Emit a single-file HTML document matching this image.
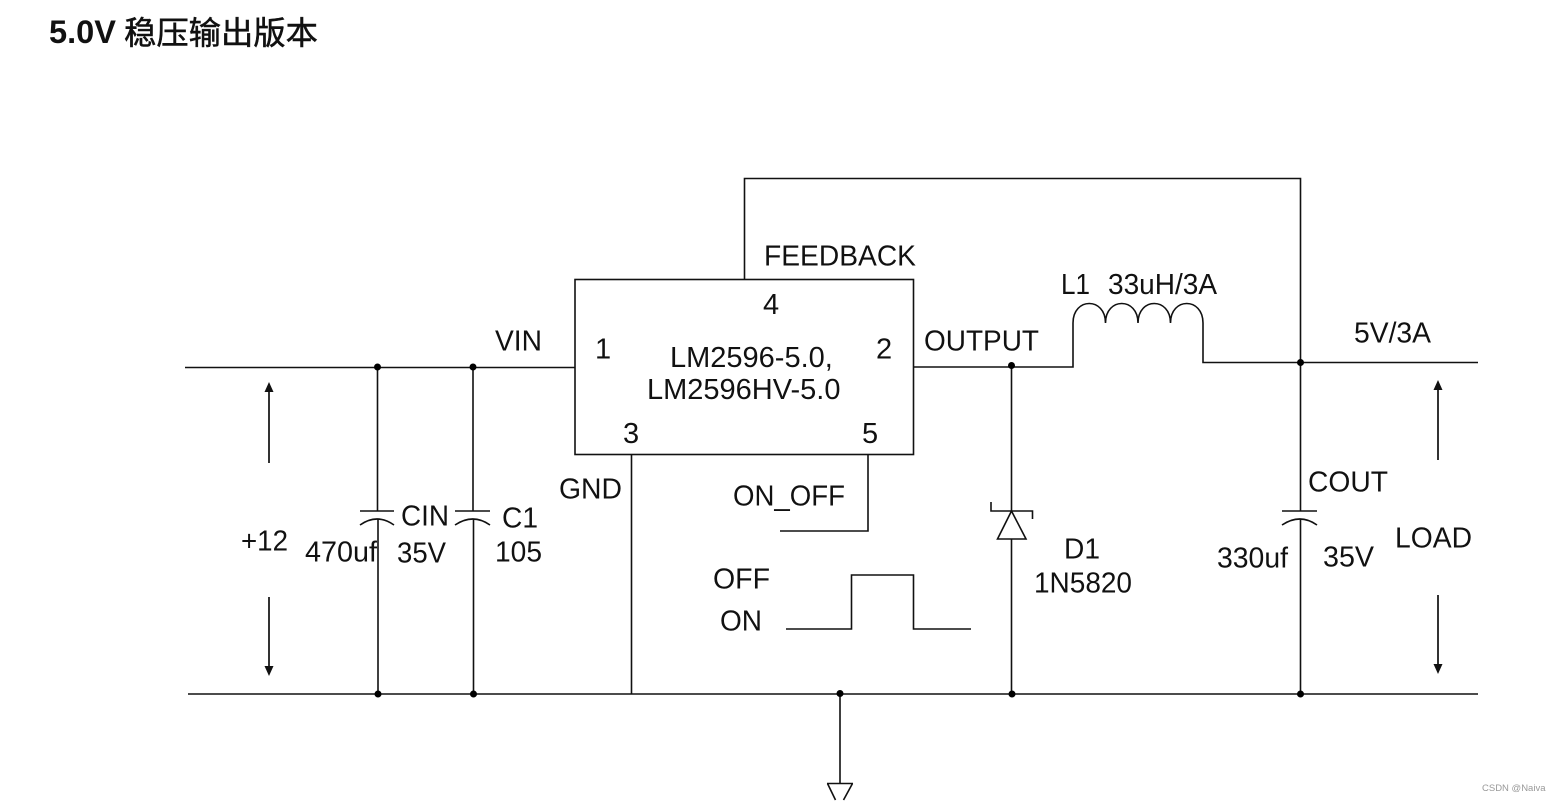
<!DOCTYPE html>
<html><head><meta charset="utf-8">
<style>
html,body{margin:0;padding:0;background:#fff;width:1564px;height:802px;overflow:hidden}
svg{display:block}
text{font-family:"Liberation Sans","Noto Sans CJK SC",sans-serif;font-size:29px;fill:#111}
.w{fill:none;stroke:#111;stroke-width:1.6}
.a{fill:none;stroke:#333;stroke-width:2}
</style></head><body>
<svg width="1564" height="802" viewBox="0 0 1564 802" xmlns="http://www.w3.org/2000/svg">
<text x="49" y="43" textLength="67" lengthAdjust="spacingAndGlyphs" style="font-size:32px;font-weight:bold">5.0V</text>
<text x="124" y="44" textLength="194" lengthAdjust="spacingAndGlyphs" style="font-size:32px;font-weight:400;stroke:#111;stroke-width:0.5;font-family:'Noto Sans CJK SC','WenQuanYi Zen Hei',sans-serif">稳压输出版本</text>

<!-- wires -->
<path class="w" d="M185 367.500H575M188 694H1478M914 367H1073V323M1203 323V362.500H1478"/>
<path class="w" d="M744.500 279V178.500H1300.500V511M1300.500 519V694"/>
<rect class="w" x="575" y="279.500" width="338.500" height="175"/>
<path class="w" d="M377.500 367V511M378 519V694M473 367V511M473.500 519V694M631.500 455V694M868 455V531H780"/>
<path class="w" d="M1011.500 367V511M1011.500 539V694M840 694V783"/>
<!-- inductor -->
<path class="w" d="M1073 323C1073 297 1105.500 297 1105.500 323C1105.500 297 1138 297 1138 323C1138 297 1170.500 297 1170.500 323C1170.500 297 1203 297 1203 323"/>
<!-- capacitors -->
<path class="w" d="M360 511H394M360 525Q377 513 394 525"/>
<path class="w" d="M455 511H490M455 525Q473 513 490 525"/>
<path class="w" d="M1282 511H1317M1282 525Q1300 513 1317 525"/>
<!-- diode -->
<path class="w" d="M991 502V511H1032.500V519M1011.500 511L997.500 539H1026Z"/>
<!-- ground -->
<path class="w" d="M827 783.500H853M827.500 783.500L835.500 800M852.500 783.500L843.500 800"/>
<!-- on/off pulse -->
<path class="w" d="M786 629H851.500V575H913.500V629H971"/>
<!-- dots -->
<g fill="#000">
<circle cx="377.500" cy="367" r="3.500"/><circle cx="473" cy="367" r="3.500"/>
<circle cx="378" cy="694" r="3.500"/><circle cx="473.500" cy="694" r="3.500"/>
<circle cx="840" cy="693.500" r="3.500"/><circle cx="1012" cy="694" r="3.500"/>
<circle cx="1300.500" cy="694" r="3.500"/><circle cx="1300.500" cy="362.500" r="3.500"/>
<circle cx="1011.500" cy="365.500" r="3.500"/>
</g>
<!-- arrows -->
<path class="a" d="M269 392V463M269 597V666M1438 390V460M1438 595V664"/>
<g fill="#111">
<path d="M264.500 392L269 382L273.500 392Z"/>
<path d="M264.500 666L269 676L273.500 666Z"/>
<path d="M1433.500 390L1438 380L1442.500 390Z"/>
<path d="M1433.500 664L1438 674L1442.500 664Z"/>
</g>
<!-- labels -->
<text x="495" y="350.500" textLength="47" lengthAdjust="spacingAndGlyphs">VIN</text>
<text x="595" y="358.500">1</text>
<text x="876" y="358.500">2</text>
<text x="763" y="314">4</text>
<text x="623" y="443">3</text>
<text x="862" y="443">5</text>
<text x="764" y="265.500" textLength="152" lengthAdjust="spacingAndGlyphs">FEEDBACK</text>
<text x="670" y="367">LM2596-5.0,</text>
<text x="647" y="399">LM2596HV-5.0</text>
<text x="924" y="350.500" textLength="115" lengthAdjust="spacingAndGlyphs">OUTPUT</text>
<text x="1061" y="294" textLength="29" lengthAdjust="spacingAndGlyphs">L1</text>
<text x="1108" y="294" textLength="109" lengthAdjust="spacingAndGlyphs">33uH/3A</text>
<text x="1354" y="342.500" textLength="77" lengthAdjust="spacingAndGlyphs">5V/3A</text>
<text x="559" y="498.500" textLength="63" lengthAdjust="spacingAndGlyphs">GND</text>
<text x="733" y="505.500" textLength="112" lengthAdjust="spacingAndGlyphs">ON_OFF</text>
<text x="713" y="588.500" textLength="57" lengthAdjust="spacingAndGlyphs">OFF</text>
<text x="720" y="630.500" textLength="42" lengthAdjust="spacingAndGlyphs">ON</text>
<text x="401" y="525.500" textLength="48" lengthAdjust="spacingAndGlyphs">CIN</text>
<text x="502" y="527.500" textLength="36" lengthAdjust="spacingAndGlyphs">C1</text>
<text x="305" y="561.500" textLength="72" lengthAdjust="spacingAndGlyphs">470uf</text>
<text x="397" y="562.500" textLength="49" lengthAdjust="spacingAndGlyphs">35V</text>
<text x="495" y="561.500" textLength="47" lengthAdjust="spacingAndGlyphs">105</text>
<text x="241" y="550.500" textLength="47" lengthAdjust="spacingAndGlyphs">+12</text>
<text x="1064" y="558.500" textLength="36" lengthAdjust="spacingAndGlyphs">D1</text>
<text x="1034" y="592.500" textLength="98" lengthAdjust="spacingAndGlyphs">1N5820</text>
<text x="1308" y="491.500" textLength="80" lengthAdjust="spacingAndGlyphs">COUT</text>
<text x="1217" y="567.500" textLength="71" lengthAdjust="spacingAndGlyphs">330uf</text>
<text x="1323" y="566.500" textLength="51" lengthAdjust="spacingAndGlyphs">35V</text>
<text x="1395" y="547.500" textLength="77" lengthAdjust="spacingAndGlyphs">LOAD</text>
<text x="1482" y="791" style="font-size:9.500px;fill:#999">CSDN @Naiva</text>
</svg>
</body></html>
